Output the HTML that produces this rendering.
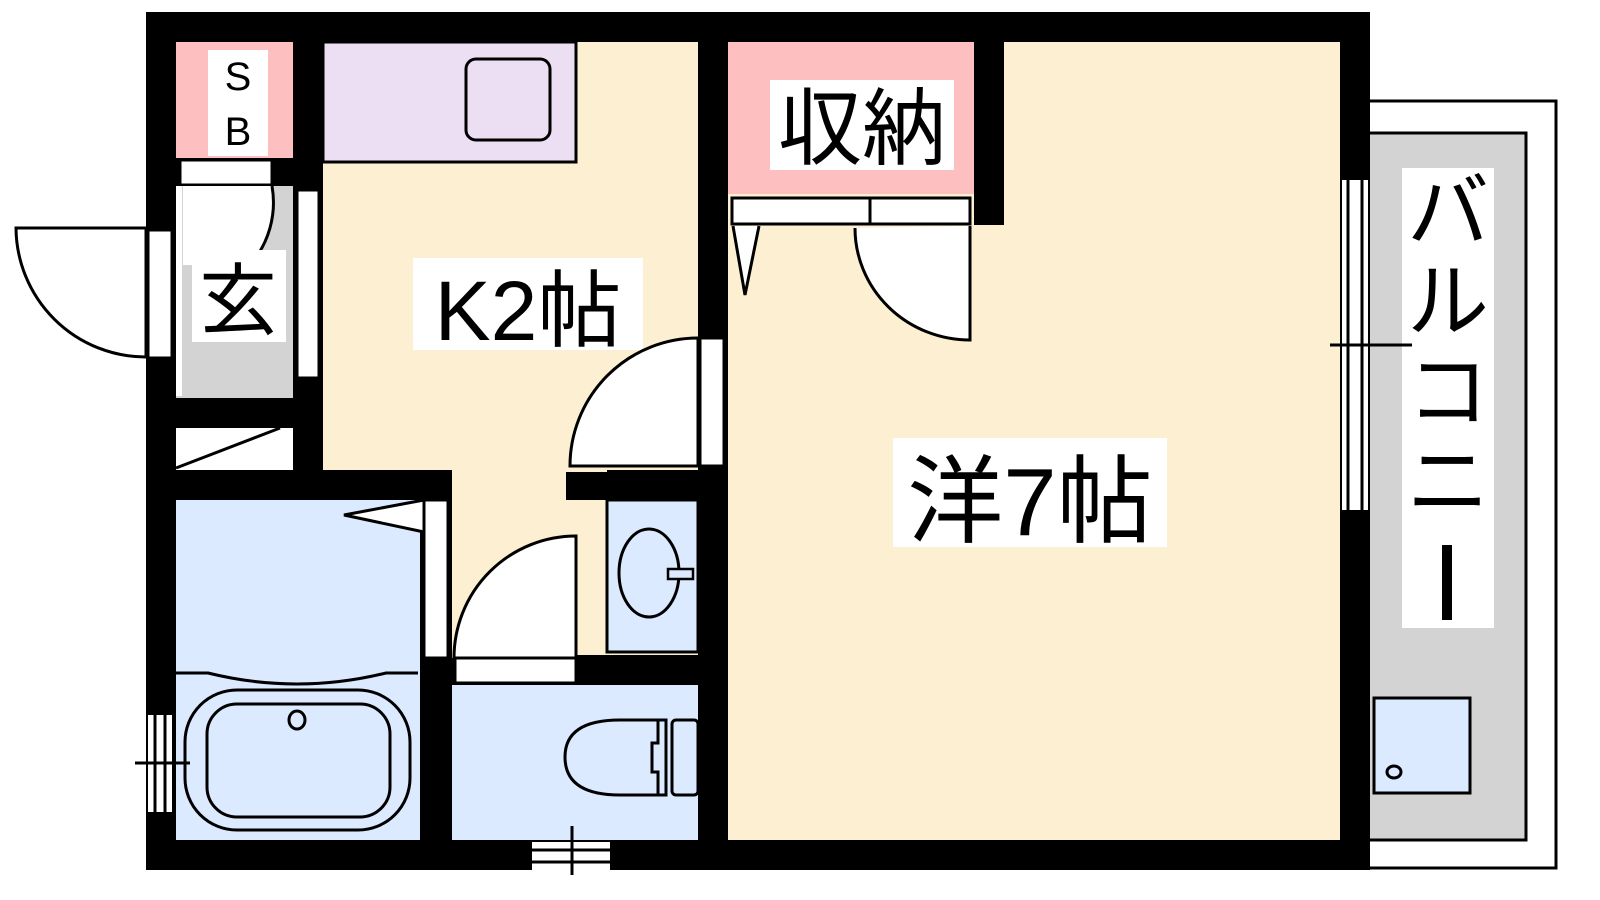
<!DOCTYPE html>
<html><head><meta charset="utf-8"><style>
html,body{margin:0;padding:0;background:#fff;}
svg{display:block;}
text{font-family:"Liberation Sans","Noto Sans CJK JP",sans-serif;fill:#000;}
</style></head><body>
<svg width="1600" height="900" viewBox="0 0 1600 900" xmlns="http://www.w3.org/2000/svg">
<!-- balcony -->
<rect x="1360" y="101" width="196" height="767" fill="#fff" stroke="#000" stroke-width="3"/>
<rect x="1360" y="133" width="166" height="707" fill="#d3d3d3" stroke="#000" stroke-width="3"/>
<rect x="1402" y="168" width="92" height="460" fill="#fff"/>
<text x="1448" y="240" font-size="82" text-anchor="middle">バ</text>
<text x="1448" y="330" font-size="82" text-anchor="middle">ル</text>
<text x="1448" y="420" font-size="82" text-anchor="middle">コ</text>
<text x="1448" y="510" font-size="82" text-anchor="middle">ニ</text>
<rect x="1442" y="545" width="10" height="75" fill="#000"/>
<rect x="1374" y="698" width="96" height="95" fill="#dbeafe" stroke="#000" stroke-width="3"/>
<ellipse cx="1394" cy="772" rx="7" ry="6" fill="none" stroke="#000" stroke-width="3"/>

<!-- outer walls -->
<rect x="146" y="12" width="1224" height="858" fill="#000"/>

<!-- room -->
<rect x="728" y="42" width="612" height="798" fill="#fdf0d2"/>
<!-- kitchen -->
<rect x="323" y="42" width="375" height="428" fill="#fdf0d2"/>
<rect x="452" y="470" width="155" height="188" fill="#fdf0d2"/>
<rect x="566" y="470" width="41" height="2" fill="#fdf0d2"/>
<rect x="452" y="500" width="246" height="155" fill="#fdf0d2"/>
<rect x="566" y="472" width="132" height="28" fill="#000"/>
<rect x="607" y="500" width="91" height="152" fill="#dbeafe" stroke="#000" stroke-width="3"/>
<!-- purple counter -->
<rect x="323" y="42" width="253" height="120" fill="#ecdff4" stroke="#000" stroke-width="3"/>
<rect x="466" y="59" width="84" height="81" rx="10" fill="#ecdff4" stroke="#000" stroke-width="3"/>

<!-- SB -->
<rect x="176" y="42" width="117" height="116" fill="#fdbfbf"/>
<rect x="208" y="50" width="60" height="106" fill="#fff"/>
<text x="238" y="90" font-size="40" text-anchor="middle">S</text>
<text x="238" y="145" font-size="40" text-anchor="middle">B</text>
<!-- genkan -->
<rect x="180" y="160" width="92" height="25" fill="#fff" stroke="#000" stroke-width="3"/>
<rect x="176" y="186" width="117" height="212" fill="#d3d3d3"/>
<path d="M183,186 L272,186 A95,95 0 0 1 250,265 L183,265 Z" fill="#fff"/>
<path d="M272,186 A95,95 0 0 1 250,265" fill="none" stroke="#000" stroke-width="3"/>
<rect x="176" y="186" width="6" height="210" fill="#fff"/>
<rect x="192" y="250" width="94" height="92" fill="#fff"/>
<text x="238" y="328" font-size="78" text-anchor="middle">玄</text>
<rect x="297" y="190" width="22" height="188" fill="#fff" stroke="#000" stroke-width="3"/>
<!-- closet below -->
<rect x="176" y="428" width="117" height="42" fill="#fff"/>
<line x1="176" y1="468" x2="280" y2="428" stroke="#000" stroke-width="3"/>

<!-- entrance door -->
<rect x="148" y="230" width="24" height="128" fill="#fff" stroke="#000" stroke-width="3"/>
<path d="M16,228 L146,228 L146,357 A130,130 0 0 1 16,228 Z" fill="#fff" stroke="#000" stroke-width="3"/>

<!-- K label -->
<rect x="413" y="258" width="230" height="92" fill="#fff"/>
<text x="528" y="340" font-size="84" text-anchor="middle">K2帖</text>

<!-- kitchen-room door -->
<rect x="700" y="338" width="24" height="128" fill="#fff" stroke="#000" stroke-width="3"/>
<path d="M698,338 L698,466 L570,466 A128,128 0 0 1 698,338 Z" fill="#fff" stroke="#000" stroke-width="3"/>

<!-- bath -->
<rect x="176" y="500" width="244" height="340" fill="#dbeafe"/>
<path d="M176,673 L208,673 Q297,695 386,673 L418,673" fill="none" stroke="#000" stroke-width="3"/>
<rect x="185" y="690" width="225" height="140" rx="52" fill="none" stroke="#000" stroke-width="3"/>
<rect x="207" y="704" width="183" height="113" rx="30" fill="none" stroke="#000" stroke-width="3"/>
<ellipse cx="297" cy="720" rx="8" ry="9" fill="none" stroke="#000" stroke-width="3"/>
<rect x="424" y="500" width="24" height="158" fill="#fff" stroke="#000" stroke-width="3"/>
<path d="M424,500 L344,515 L424,532 Z" fill="#fff" stroke="#000" stroke-width="3"/>
<!-- bath window -->
<rect x="148" y="715" width="24" height="97" fill="#fff"/>
<line x1="155" y1="715" x2="155" y2="812" stroke="#000" stroke-width="3"/>
<line x1="165" y1="715" x2="165" y2="812" stroke="#000" stroke-width="3"/>
<line x1="135" y1="763" x2="190" y2="763" stroke="#000" stroke-width="3"/>

<!-- toilet -->
<rect x="452" y="685" width="246" height="155" fill="#dbeafe"/>
<rect x="576" y="655" width="122" height="30" fill="#000"/>
<rect x="455" y="658" width="121" height="25" fill="#fff" stroke="#000" stroke-width="3"/>
<path d="M576,536 L576,658 L454,658 A122,122 0 0 1 576,536 Z" fill="#fff" stroke="#000" stroke-width="3"/>
<path d="M666,720 L620,720 Q565,720 565,757 Q565,795 620,795 L666,795 Z" fill="#dbeafe" stroke="#000" stroke-width="3"/>
<rect x="672" y="720" width="26" height="75" rx="4" fill="#dbeafe" stroke="#000" stroke-width="3"/>
<path d="M658,720 L658,743 L652,743 L652,772 L658,772 L658,795" fill="none" stroke="#000" stroke-width="3"/>
<ellipse cx="649" cy="573" rx="30" ry="44" fill="none" stroke="#000" stroke-width="3"/>
<rect x="668" y="569" width="25" height="10" fill="#dbeafe" stroke="#000" stroke-width="2.5"/>
<!-- toilet window -->
<rect x="532" y="842" width="78" height="28" fill="#fff"/>
<line x1="532" y1="850" x2="610" y2="850" stroke="#000" stroke-width="3"/>
<line x1="532" y1="862" x2="610" y2="862" stroke="#000" stroke-width="3"/>
<line x1="572" y1="826" x2="572" y2="875" stroke="#000" stroke-width="3"/>

<!-- storage -->
<rect x="728" y="42" width="246" height="152" fill="#fdbfbf"/>
<rect x="974" y="42" width="30" height="183" fill="#000"/>
<rect x="770" y="80" width="184" height="90" fill="#fff"/>
<text x="862" y="158" font-size="84" text-anchor="middle">収納</text>
<rect x="732" y="198" width="238" height="26" fill="#fff" stroke="#000" stroke-width="3"/>
<line x1="870" y1="198" x2="870" y2="224" stroke="#000" stroke-width="3"/>
<path d="M733,226 L745,295 L759,226" fill="#fff" stroke="#000" stroke-width="3"/>
<path d="M855,228 A115,112 0 0 0 970,340 L970,226" fill="#fff" stroke="#000" stroke-width="3"/>

<!-- room label -->
<rect x="893" y="438" width="274" height="109" fill="#fff"/>
<text x="1030" y="535" font-size="96" text-anchor="middle">洋7帖</text>

<!-- right window -->
<rect x="1342" y="180" width="26" height="330" fill="#fff"/>
<line x1="1348" y1="180" x2="1348" y2="510" stroke="#000" stroke-width="3"/>
<line x1="1362" y1="180" x2="1362" y2="510" stroke="#000" stroke-width="3"/>
<line x1="1330" y1="345" x2="1412" y2="345" stroke="#000" stroke-width="3"/>
</svg>
</body></html>
